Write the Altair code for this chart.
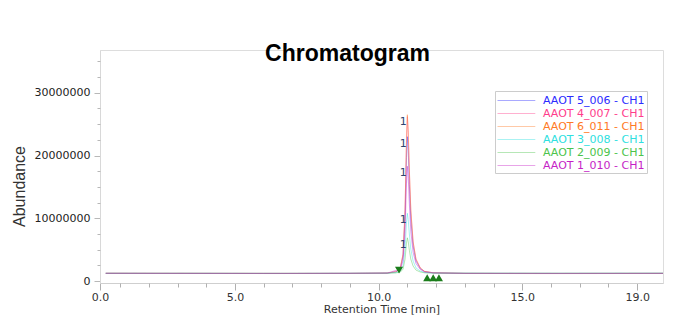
import altair as alt
import pandas as pd

# ---------------- data ----------------
series_names = ["AAOT 5_006 - CH1", "AAOT 4_007 - CH1", "AAOT 6_011 - CH1",
                "AAOT 3_008 - CH1", "AAOT 2_009 - CH1", "AAOT 1_010 - CH1"]
series_colors = ["#2b2bff", "#ff3d8b", "#ff7a26", "#2ee0e0", "#4cc44c", "#c61fc6"]

# retention time [min]
times = [0.5, 3.0, 6.0, 6.6, 9.0,
         10.3, 10.6, 10.75, 10.85, 10.92, 10.97, 11.0, 11.03, 11.07, 11.12, 11.2, 11.3, 11.45, 11.6, 11.9,
         13.0, 16.0, 19.9]

# abundance, in millions
aaot5_006 = [1.24, 1.23, 1.22, 1.22, 1.24,
             1.27, 1.47, 1.9, 3.9, 9.9, 19.7, 23.0, 20.8, 15.4, 9.9, 5.6, 3.2, 2.0, 1.5, 1.32,
             1.24, 1.23, 1.24]
aaot4_007 = [1.26, 1.25, 1.24, 1.24, 1.25,
             1.28, 1.5, 2.0, 4.25, 11.2, 22.5, 26.2, 23.7, 17.5, 11.2, 6.2, 3.5, 2.1, 1.55, 1.33,
             1.22, 1.20, 1.22]
aaot6_011 = [1.25, 1.24, 1.23, 1.23, 1.24,
             1.28, 1.5, 2.0, 4.3, 11.4, 22.7, 26.5, 24.0, 17.7, 11.4, 6.3, 3.5, 2.1, 1.55, 1.33,
             1.25, 1.24, 1.25]
aaot3_008 = [1.25, 1.25, 1.24, 1.24, 1.25,
             1.27, 1.35, 1.54, 2.4, 5.1, 9.4, 10.8, 9.8, 7.5, 5.1, 3.2, 2.1, 1.6, 1.37, 1.28,
             1.26, 1.25, 1.26]
aaot2_009 = [1.24, 1.24, 1.23, 1.23, 1.24,
             1.27, 1.31, 1.42, 1.9, 3.5, 6.05, 6.9, 6.3, 4.9, 3.5, 2.4, 1.76, 1.45, 1.32, 1.27,
             1.25, 1.24, 1.25]
aaot1_010 = [1.23, 1.22, 1.21, 1.21, 1.23,
             1.28, 1.7, 1.77, 3.25, 7.9, 15.6, 18.3, 16.6, 12.3, 7.9, 4.6, 2.8, 1.85, 1.46, 1.3,
             1.23, 1.22, 1.23]
series_values = [aaot5_006, aaot4_007, aaot6_011, aaot3_008, aaot2_009, aaot1_010]

# series whose peak carries a "1" label
labelled_series = ["AAOT 6_011 - CH1", "AAOT 5_006 - CH1", "AAOT 1_010 - CH1",
                   "AAOT 3_008 - CH1", "AAOT 2_009 - CH1"]
peak_label_text = "1"

# integration markers (green triangles)
start_times = [10.71]
start_levels = [1.75]
end_times = [11.69, 11.9, 12.1]
end_levels = [0.55, 0.55, 0.55]

# axes
x_domain = [0.3, 19.9]
x_minor_ticks = [1, 2, 3, 4, 6, 7, 8, 9, 11, 12, 13, 14, 16, 17, 18]
x_label_values = [0.3, 5, 10, 15, 19]
x_label_texts = ["0.0", "5.0", "10.0", "15.0", "19.0"]
y_domain = [-300000, 36800000]
y_minor_ticks = [2500000, 5000000, 7500000, 12500000, 15000000, 17500000,
                 22500000, 25000000, 27500000, 32500000, 35000000]
y_label_values = [0, 10000000, 20000000, 30000000]

# ---------------- tables ----------------
rows = []
for name, vals in zip(series_names, series_values):
    for t, v in zip(times, vals):
        rows.append({"series": name, "time": t, "abundance": v * 1_000_000})
df = pd.DataFrame(rows)

peaks = []
for name, vals in zip(series_names, series_values):
    if name in labelled_series:
        i = vals.index(max(vals))
        peaks.append({"series": name, "time": times[i], "abundance": vals[i] * 1_000_000,
                      "label": peak_label_text})
peak_df = pd.DataFrame(peaks)

start_df = pd.DataFrame({"time": start_times, "abundance": [v * 1_000_000 for v in start_levels]})
end_df = pd.DataFrame({"time": end_times, "abundance": [v * 1_000_000 for v in end_levels]})

# ---------------- expressions ----------------
x_label_expr = ""
for v, s in zip(x_label_values, x_label_texts):
    x_label_expr += f"datum.value == {v} ? '{s}' : "
x_label_expr += "''"

legend_color_expr = ""
for n, c in zip(series_names, series_colors):
    legend_color_expr += f"datum.label == '{n}' ? '{c}' : "
legend_color_expr += "'#000000'"

FONT = "DejaVu Sans"
x_scale = alt.Scale(domain=x_domain, nice=False, zero=False)
y_scale = alt.Scale(domain=y_domain, nice=False, zero=False)

x_major = alt.X("time:Q", scale=x_scale,
                axis=alt.Axis(title="Retention Time [min]", orient="bottom", values=x_label_values,
                              labelExpr=x_label_expr, grid=False,
                              domainColor="#cfcfcf", tickColor="#b0b0b0", tickSize=7,
                              labelPadding=1, labelFont=FONT, labelFontSize=11,
                              labelColor="#333333", titleFont=FONT, titleFontSize=11,
                              titleFontWeight="normal", titleColor="#333333", titlePadding=1,
                              labelFlush=False, labelOverlap=False))
y_major = alt.Y("abundance:Q", scale=y_scale,
                axis=alt.Axis(title="Abundance", orient="left", values=y_label_values,
                              format="d", grid=False, domainColor="#d8d8d8",
                              tickColor="#b8b8b8", tickSize=6, labelPadding=4,
                              labelFont=FONT, labelFontSize=11, labelColor="#222222",
                              titleFont="Liberation Sans", titleFontSize=16,
                              titleFontWeight="normal", titleColor="#333333",
                              titlePadding=7, titleY=136, labelOverlap=False))
x_minor = alt.X("time:Q", scale=x_scale,
                axis=alt.Axis(title=None, orient="bottom", values=x_minor_ticks, labels=False,
                              domain=False, grid=False, tickColor="#b0b0b0", tickSize=4))
y_minor = alt.Y("abundance:Q", scale=y_scale,
                axis=alt.Axis(title=None, orient="left", values=y_minor_ticks, labels=False,
                              domain=False, grid=False, tickColor="#b8b8b8", tickSize=3))

lines = alt.Chart(df).mark_line(strokeWidth=1, opacity=0.42).encode(
    x=x_major, y=y_major,
    color=alt.Color("series:N",
                    scale=alt.Scale(domain=series_names, range=series_colors),
                    legend=alt.Legend(title=None, orient="none", legendX=395, legendY=41,
                                      symbolType="M-1,0H4.4", symbolSize=196,
                                      symbolStrokeWidth=1, symbolOpacity=0.4,
                                      labelFont=FONT, labelFontSize=11,
                                      labelColor={"expr": legend_color_expr},
                                      labelLimit=300, labelOffset=31,
                                      fillColor="white", strokeColor="#cccccc",
                                      padding=2, rowPadding=0)),
)

labels = alt.Chart(peak_df).mark_text(font=FONT, fontSize=11, color="#2e4470",
                                      align="center", baseline="top", dx=-4, dy=1).encode(
    x=x_minor, y=y_minor, text="label:N")

starts = alt.Chart(start_df).mark_point(shape="triangle-down", filled=True, size=65,
                                        color="#1b7d1b", opacity=1).encode(
    x=alt.X("time:Q", scale=x_scale, axis=None),
    y=alt.Y("abundance:Q", scale=y_scale, axis=None))
ends = alt.Chart(end_df).mark_point(shape="triangle-up", filled=True, size=65,
                                    color="#1b7d1b", opacity=1).encode(
    x=alt.X("time:Q", scale=x_scale, axis=None),
    y=alt.Y("abundance:Q", scale=y_scale, axis=None))

chart = alt.layer(lines, labels, starts, ends).resolve_axis(
    x="independent", y="independent"
).properties(
    width=563, height=233,
    autosize=alt.AutoSizeParams(type="none"),
    padding={"left": 92, "top": 42, "right": 2, "bottom": 32},
    title=alt.TitleParams(text="Chromatogram", font="Liberation Sans", fontSize=23,
                          fontWeight="bold", color="#000000", anchor="middle",
                          dx=-34, dy=34, offset=0, baseline="alphabetic"),
).configure_view(stroke=None).configure(background="white")

chart.save("out.html", embed_options={"renderer": "svg", "actions": False})
